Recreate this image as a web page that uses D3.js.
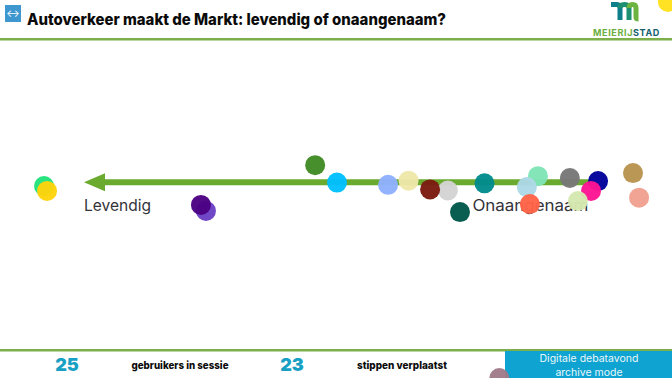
<!DOCTYPE html>
<html>
<head>
<meta charset="utf-8">
<script src="https://cdn.jsdelivr.net/npm/d3@7"></script>
<style>
html, body { margin: 0; padding: 0; background: #fff; overflow: hidden; }
svg { display: block; font-family: "Inter", "Noto Sans", sans-serif; }
</style>
</head>
<body>
<div id="board"></div>
<script>
var title = "Autoverkeer maakt de Markt: levendig of onaangenaam?";
var axisLabels = ["Levendig", "Onaangenaam"];
var axisEnds = [12.5, 88];
var axisLevel = 48.2;
var axisLabelPos = [12.5, 70.3];

// dot positions in percent of the board, in drawing order
var dotX = [6.55, 7.0, 30.65, 29.9, 46.9, 50.15, 57.75, 60.8, 66.65, 64.0, 68.45, 72.1, 80.05, 78.4, 78.85, 84.8, 89.0, 87.95, 86.0, 94.2, 95.1, 74.3, 99.4];
var dotY = [49.2, 50.5, 55.8, 54.2, 43.7, 48.3, 48.9, 47.8, 50.4, 50.1, 56.1, 48.5, 46.6, 49.5, 54.0, 47.1, 47.9, 50.5, 53.2, 45.8, 52.3, 100, 0.5];
var dotColors = ["#20e27c", "#ffd30a", "#6a3fc4", "#4b0082", "#3f8a23", "#00bfff", "#8fb0ff", "#eee8aa", "#d3d3d3", "#7a1a10", "#00574a", "#008b8b", "#7fe5b5", "#add8e6", "#ff6347", "#777777", "#00009b", "#ff1493", "#d5e8b0", "#b8934f", "#f0a090", "#a07a88", "#ffe11a"];

var footerCounts = ["25", "23"];
var footerLabels = ["gebruikers in sessie", "stippen verplaatst"];
var bannerLines = ["Digitale debatavond", "archive mode"];

var width = 672,
	height = 378;

var svg = d3.select("#board")
	.append("svg")
	.attr("width", width)
	.attr("height", height)
	.attr("viewBox", [0, 0, width, height]);

var x = d3.scaleLinear().domain([0, 100]).range([0, width]);
var y = d3.scaleLinear().domain([0, 100]).range([0, height]);

// header
svg.append("rect").attr("x", 5).attr("y", 5).attr("width", 16).attr("height", 17).attr("fill", "#3f97cf");
svg.append("text").attr("x", 13).attr("y", 17).attr("text-anchor", "middle")
	.attr("font-size", 10).attr("fill", "#fff").text("↔");
svg.append("text").attr("x", 27).attr("y", 25)
	.attr("font-size", 16).attr("font-weight", 800).attr("fill", "#0b0b0b")
	.attr("textLength", 419).attr("lengthAdjust", "spacingAndGlyphs")
	.text(title);
svg.append("rect").attr("x", 0).attr("y", 38).attr("width", width).attr("height", 2.5).attr("fill", "#7dae4c");

// logo
var logo = svg.append("g").attr("fill", "none").attr("stroke-width", 5);
logo.append("path").attr("d", "M611 4.5 H617 Q620 4.5 620 8 V20").attr("stroke", "#0d7f8a");
logo.append("path").attr("d", "M620 8 Q620 4.5 624.5 4.5 Q629 4.5 629 8 V20").attr("stroke", "#1b8f6f");
logo.append("path").attr("d", "M629 8 Q629 4.5 632.5 4.5 Q636 4.5 636 8 V17 Q636 19 638.5 19").attr("stroke", "#6cb33f");
svg.append("text").attr("x", 593).attr("y", 35.5)
	.attr("font-size", 9).attr("font-weight", 700).attr("letter-spacing", 0.6)
	.attr("textLength", 67).attr("lengthAdjust", "spacingAndGlyphs")
	.call(t => t.append("tspan").attr("fill", "#6cae3e").text("MEIERIJ"))
	.call(t => t.append("tspan").attr("fill", "#15606e").text("STAD"));

// axis arrow and labels
var axisY = y(axisLevel);
svg.append("line")
	.attr("x1", x(axisEnds[0]) + 10).attr("x2", x(axisEnds[1]))
	.attr("y1", axisY).attr("y2", axisY)
	.attr("stroke", "#6aaa2f").attr("stroke-width", 6);
svg.append("path")
	.attr("d", d3.line()([[x(axisEnds[0]), axisY], [x(axisEnds[0]) + 21, axisY - 9], [x(axisEnds[0]) + 21, axisY + 9]]) + "Z")
	.attr("fill", "#6aaa2f");

svg.selectAll(".axis-label")
	.data(axisLabels)
	.join("text")
	.attr("class", "axis-label")
	.attr("x", (d, i) => x(axisLabelPos[i]))
	.attr("y", 211)
	.attr("font-size", 15.5).attr("fill", "#33333a")
	.attr("textLength", (d, i) => [67, 116][i]).attr("lengthAdjust", "spacingAndGlyphs")
	.text(d => d);

// footer (banner goes under the dots)
svg.append("rect").attr("x", 0).attr("y", 349).attr("width", width).attr("height", 2.5).attr("fill", "#7dae4c");
svg.append("rect").attr("x", 505).attr("y", 351).attr("width", 167).attr("height", 27).attr("fill", "#0ea3d1");

var footerCountX = [67, 292];
var footerLabelX = [180, 402];
svg.selectAll(".count")
	.data(footerCounts)
	.join("text")
	.attr("class", "count")
	.attr("x", (d, i) => footerCountX[i])
	.attr("y", 371)
	.attr("text-anchor", "middle")
	.attr("font-size", 18).attr("font-weight", 900).attr("fill", "#18a0c4")
	.text(d => d);
svg.selectAll(".footer-label")
	.data(footerLabels)
	.join("text")
	.attr("class", "footer-label")
	.attr("x", (d, i) => footerLabelX[i])
	.attr("y", 369)
	.attr("text-anchor", "middle")
	.attr("font-size", 10.5).attr("font-weight", 800).attr("fill", "#0b0b0b")
	.attr("textLength", (d, i) => [97, 90][i]).attr("lengthAdjust", "spacingAndGlyphs")
	.text(d => d);
svg.selectAll(".banner")
	.data(bannerLines)
	.join("text")
	.attr("class", "banner")
	.attr("x", 589)
	.attr("y", (d, i) => 362 + i * 13.5)
	.attr("text-anchor", "middle")
	.attr("font-size", 10.5).attr("fill", "#e9f7fb")
	.text(d => d);

// dots
svg.append("g")
	.selectAll("circle")
	.data(dotX)
	.join("circle")
	.attr("cx", d => x(d))
	.attr("cy", (d, i) => y(dotY[i]))
	.attr("r", 10)
	.attr("fill", (d, i) => dotColors[i])
	.attr("fill-opacity", 0.96);
</script>
</body>
</html>
